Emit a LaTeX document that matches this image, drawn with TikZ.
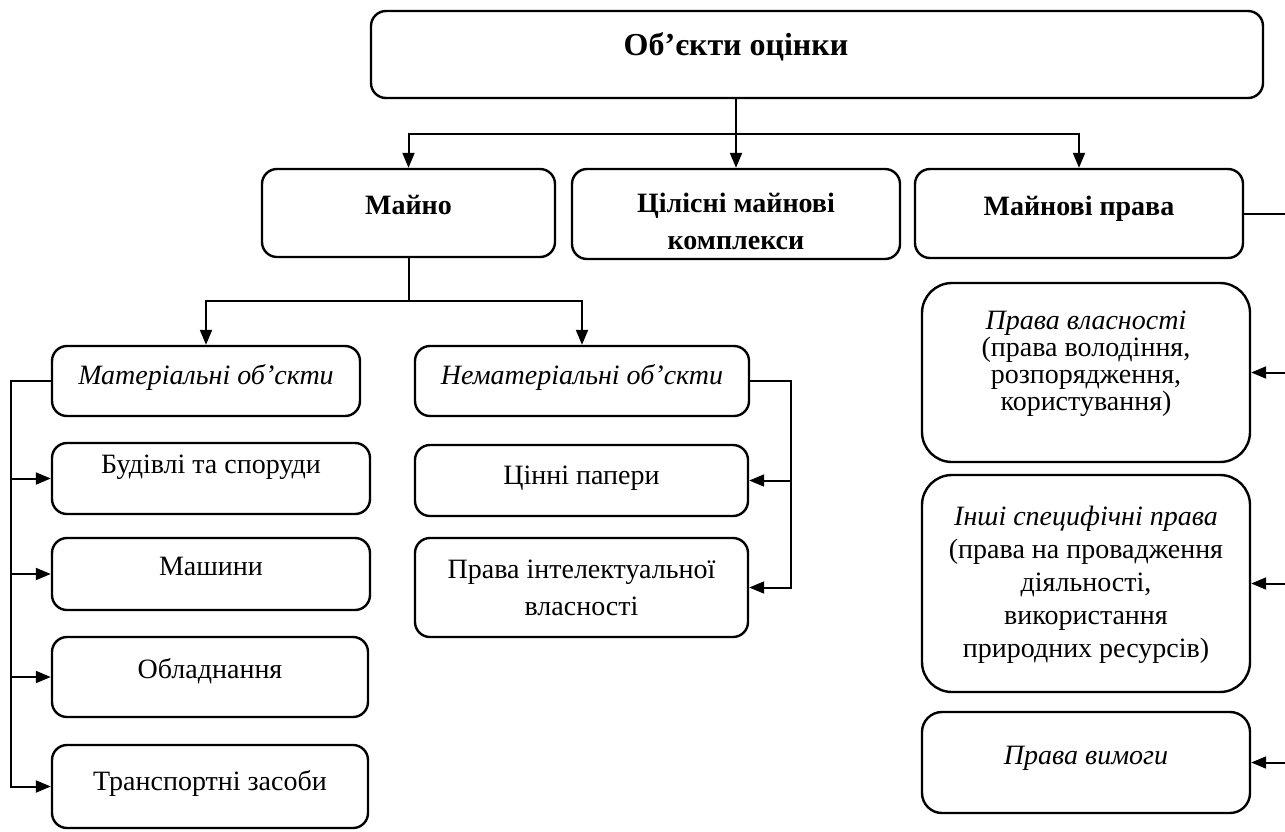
\documentclass[tikz,border=0pt]{standalone}
\usepackage{fontspec}
\setmainfont{Liberation Serif}
\usetikzlibrary{arrows.meta,positioning,calc}

\begin{document}
\begin{tikzpicture}[x=1pt,y=-1pt,
  every node/.style={font=\fontsize{28}{31}\selectfont},
  box/.style={draw,line width=2.4pt,rounded corners=15pt,align=center,inner sep=0pt,
    text height=19pt,text depth=16pt},
  bigbox/.style={box,rounded corners=30pt},
  lift/.style={text depth=#1},
  arr/.style={line width=2pt,-{Triangle[length=15pt,width=12pt]}},
  link/.style={line width=2pt}]
\useasboundingbox (0,0) rectangle (1285,831);

% top level
\node[box,minimum width=892pt,minimum height=87pt] (obj) at (817,54.5) {};
\node[font=\fontsize{32}{36}\selectfont\bfseries] (objtxt) at (736,47) {Об’єкти оцінки};

\node[box,minimum width=293pt,minimum height=88pt] (majno) at (408.5,213) {\textbf{Майно}};
\node[box,minimum width=328pt,minimum height=90pt,
  label={[font=\fontsize{28}{37}\selectfont\bfseries,align=center,yshift=-7pt]center:{Цілісні майнові\\комплекси}}]
  (tsil) at (736,214) {};
\node[box,minimum width=328pt,minimum height=89pt] (mprava) at (1079,213.5) {\textbf{Майнові права}};

\draw[arr] (obj.south -| tsil.north) -- (tsil.north);
\draw[arr] (obj.south -| tsil.north) -- ++(0,35) -| (majno.north);
\draw[arr] (obj.south -| tsil.north) -- ++(0,35) -| (mprava.north);

% majno
\node[box,lift=13pt,minimum width=308pt,minimum height=70pt] (mater) at (206,381) {\textit{Матеріальні об’скти}};
\node[box,lift=13pt,minimum width=334pt,minimum height=70pt] (nemat) at (582,381) {\textit{Нематеріальні об’скти}};
\draw[arr] (majno.south) -- ++(0,43) -| (mater.north);
\draw[arr] (majno.south) -- ++(0,43) -| (nemat.north);

\node[box,lift=29pt,minimum width=318pt,minimum height=71pt] (bud) at (211,478.5) {Будівлі та споруди};
\node[box,lift=17pt,minimum width=318pt,minimum height=72pt] (mash) at (211,574) {Машини};
\node[box,lift=17pt,minimum width=316pt,minimum height=80pt] (obl) at (210,677) {Обладнання};
\node[box,lift=12pt,minimum width=316pt,minimum height=83pt] (trans) at (210,786.5) {Транспортні засоби};
\foreach \n in {bud,mash,obl,trans}
  \draw[arr] (mater.west) -- ++(-40,0) |- (\n.west);

\node[box,lift=12pt,minimum width=333pt,minimum height=71pt] (tsin) at (581.5,480.5) {Цінні папери};
\node[box,minimum width=333pt,minimum height=99pt,
  label={[font=\fontsize{28}{37}\selectfont,align=center]center:{Права інтелектуальної\\власності}}]
  (intel) at (581.5,587.5) {};
\foreach \n in {tsin,intel}
  \draw[arr] (nemat.east) -- ++(41,0) |- (\n.east);

% mainovi prava
\node[bigbox,minimum width=328pt,minimum height=179pt,
  label={[font=\fontsize{28}{27}\selectfont,align=center,yshift=9pt]center:{\textit{Права власності}\\(права володіння,\\розпорядження,\\користування)}}]
  (vlasn) at (1086,372.5) {};
\node[bigbox,minimum width=328pt,minimum height=217pt,
  label={[font=\fontsize{28}{33}\selectfont,align=center,yshift=-1pt]center:{\textit{Інші специфічні права}\\(права на провадження\\діяльності,\\використання\\природних ресурсів)}}]
  (inshi) at (1086,583.5) {};
\node[box,rounded corners=20pt,minimum width=328pt,minimum height=101pt] (vymogy) at (1086,762.5)
  {\textit{Права вимоги}};

\coordinate (rbus) at (1292,0);
\draw[link] (mprava.east) -- (mprava.east -| rbus) -- (rbus |- vymogy.east);
\foreach \n in {vlasn,inshi,vymogy}
  \draw[arr] (rbus |- \n.east) -- (\n.east);
\end{tikzpicture}
\end{document}
